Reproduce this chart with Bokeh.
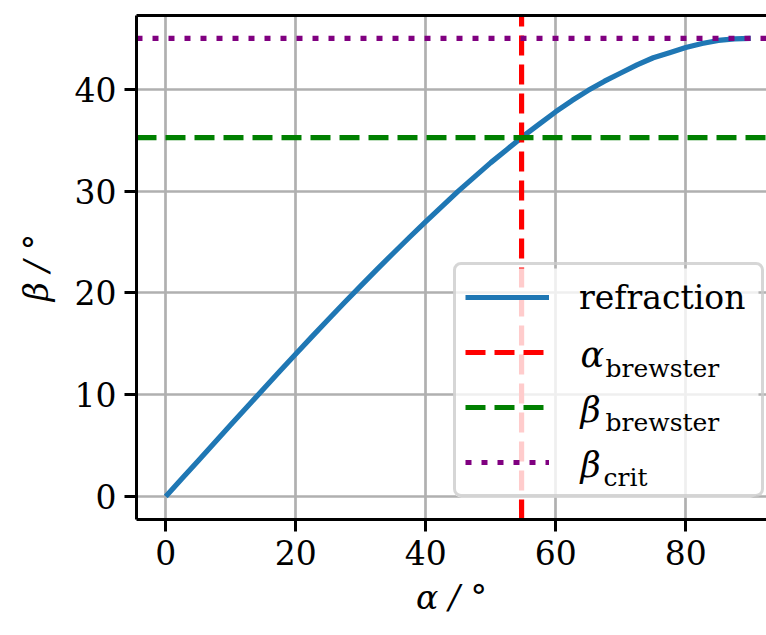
from bokeh.plotting import figure
from bokeh.models import (Range1d, LinearAxis, FixedTicker, Legend, LegendItem, Label,
                          BoxAnnotation)
from bokeh.embed import file_html
from bokeh.resources import INLINE

# ---- data ----
alpha_deg = [0, 2.5, 5, 7.5, 10, 12.5, 15, 17.5, 20, 22.5, 25, 27.5, 30, 32.5, 35, 37.5,
             40, 42.5, 45, 47.5, 50, 52.5, 55, 57.5, 60, 62.5, 65, 67.5, 70, 72.5, 75,
             77.5, 80, 82.5, 85, 87.5, 90]
beta_deg = [0.0, 1.77, 3.53, 5.29, 7.05, 8.8, 10.55, 12.28, 14.0, 15.71, 17.4, 19.06,
            20.7, 22.32, 23.9, 25.47, 27.0, 28.5, 30.0, 31.4, 32.8, 34.1, 35.4, 36.6,
            37.8, 38.9, 39.9, 40.8, 41.6, 42.4, 43.1, 43.6, 44.1, 44.5, 44.8, 44.96, 45.0]
alpha_brewster = 54.74
beta_brewster = 35.26
beta_crit = 45.0
x_ticks = [0, 20, 40, 60, 80]
y_ticks = [0, 10, 20, 30, 40]
legend_label = "refraction"
legend_symbols = ["α", "β", "β"]
legend_subscripts = ["brewster", "brewster", "crit"]
x_label = "α / °"
y_label = "β / °"

x_lo, x_hi = -4.5, 92.42
y_lo, y_hi = -2.25, 47.25

FONT = "DejaVu Serif"
FS = "33px"
LW = 5.2

p = figure(width=766, height=635, output_backend="svg", toolbar_location=None,
           x_range=Range1d(x_lo, x_hi), y_range=Range1d(y_lo, y_hi),
           min_border_left=136, min_border_right=0, min_border_top=15,
           min_border_bottom=116)
p.outline_line_color = None
p.background_fill_color = "white"
p.border_fill_color = "white"

for ax in (p.xaxis[0], p.yaxis[0]):
    ax.axis_line_width = 3
    ax.axis_line_color = "black"
    ax.major_tick_line_width = 3
    ax.major_tick_out = 12
    ax.major_tick_in = 0
    ax.minor_tick_line_color = None
    ax.major_label_text_font = FONT
    ax.major_label_text_font_size = FS
    ax.major_label_text_color = "black"
    ax.axis_label_text_font = FONT
    ax.axis_label_text_font_size = FS
    ax.axis_label_text_font_style = "italic"
    ax.axis_label_text_color = "black"
    ax.major_label_standoff = 8
p.xaxis.ticker = FixedTicker(ticks=x_ticks)
p.yaxis.ticker = FixedTicker(ticks=y_ticks)
p.xaxis.axis_label = x_label
p.yaxis.axis_label = y_label
p.xaxis.axis_label_standoff = 10
p.yaxis.axis_label_standoff = 16

top = LinearAxis(ticker=FixedTicker(ticks=[]), major_tick_line_color=None,
                 minor_tick_line_color=None, major_label_text_font_size="0px",
                 axis_line_width=3, axis_line_color="black")
p.add_layout(top, "above")

for g in (p.xgrid[0], p.ygrid[0]):
    g.grid_line_color = "#b0b0b0"
    g.grid_line_width = 2.7

r_curve = p.line(alpha_deg, beta_deg, line_color="#1f77b4", line_width=LW,
                 line_join="round")
r_ab = p.line([alpha_brewster, alpha_brewster], [y_lo, y_hi], line_color="red",
              line_width=LW, line_dash="20 9")
r_bb = p.line([x_lo, x_hi], [beta_brewster, beta_brewster], line_color="green",
              line_width=LW, line_dash="20 9")
r_bc = p.line([x_lo, x_hi], [beta_crit, beta_crit], line_color="purple",
              line_width=LW, line_dash="6 10")

# legend geometry (screen px, relative to the frame's bottom-left)
LEG_X, LEG_Y = 317, 22
PAD, GW, GH, STAND, LBW, SP = 9, 84, 46, 30, 173, 9
LEG_W = 2 * PAD + GW + STAND + LBW
LEG_H = 2 * PAD + 4 * GH + 3 * SP

bg = BoxAnnotation(left=LEG_X, right=LEG_X + LEG_W, bottom=LEG_Y, top=LEG_Y + LEG_H,
                   left_units="screen", right_units="screen", bottom_units="screen",
                   top_units="screen", fill_color="white", fill_alpha=0.8,
                   line_color=None)
if "border_radius" in BoxAnnotation.properties():
    bg.border_radius = 8
p.add_layout(bg)

legend = Legend(items=[LegendItem(label=legend_label, renderers=[r_curve]),
                       LegendItem(label=" ", renderers=[r_ab]),
                       LegendItem(label=" ", renderers=[r_bb]),
                       LegendItem(label=" ", renderers=[r_bc])],
                location=(LEG_X, LEG_Y))
legend.label_text_font = FONT
legend.label_text_font_size = FS
legend.label_text_color = "black"
legend.glyph_width = GW
legend.glyph_height = GH
legend.label_height = GH
legend.label_width = LBW
legend.label_standoff = STAND
legend.spacing = SP
legend.padding = PAD
legend.margin = 0
legend.border_line_color = "#cccccc"
legend.border_line_width = 3
legend.border_line_alpha = 0.8
legend.background_fill_alpha = 0.0
if "border_radius" in Legend.properties():
    legend.border_radius = 8
p.add_layout(legend)

sym_pos = [(444, 165), (444, 110), (444, 55)]
sub_pos = [(469, 151), (469, 97), (467, 42)]
for sym, (sx, sy) in zip(legend_symbols, sym_pos):
    p.add_layout(Label(x=sx, y=sy, x_units="screen", y_units="screen", text=sym,
                       text_font=FONT, text_font_size="35px", text_font_style="italic",
                       text_color="black", text_baseline="alphabetic",
                       text_align="left", level="overlay"))
for txt, (sx, sy) in zip(legend_subscripts, sub_pos):
    p.add_layout(Label(x=sx, y=sy, x_units="screen", y_units="screen", text=txt,
                       text_font=FONT, text_font_size="25px", text_color="black",
                       text_baseline="alphabetic", text_align="left",
                       level="overlay"))

open("out.html", "w").write(file_html(p, INLINE))
